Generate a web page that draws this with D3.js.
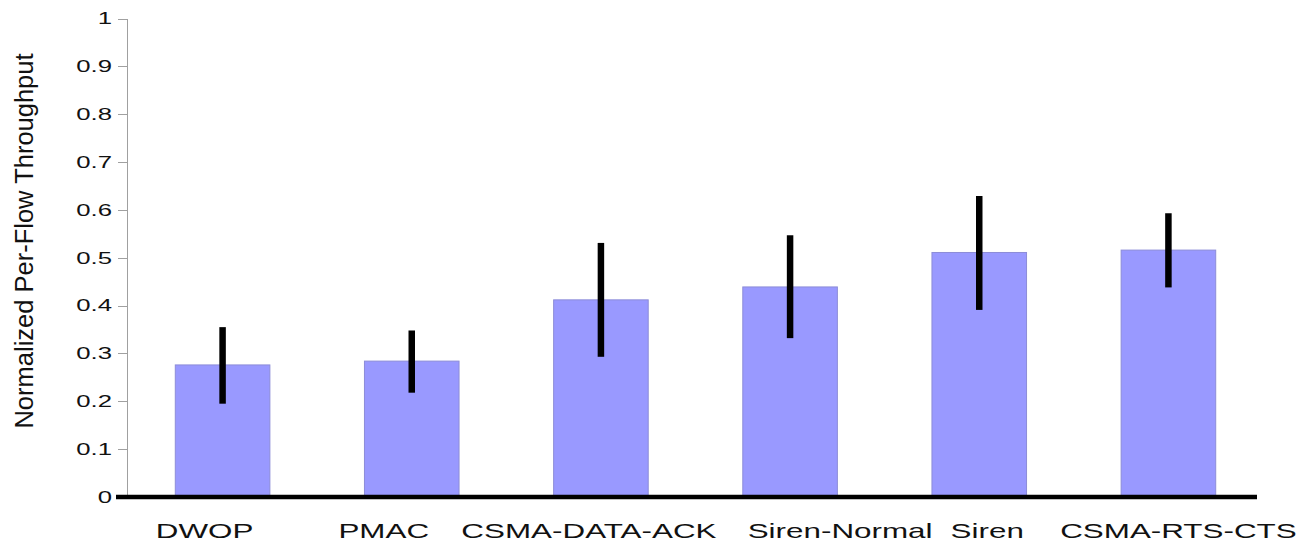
<!DOCTYPE html>
<html>
<head>
<meta charset="utf-8">
<script src="https://cdn.jsdelivr.net/npm/d3@7"></script>
<style>
body { margin: 0; background: #fff; }
svg { font-family: "Liberation Sans", Arial, sans-serif; }
.yaxis path, .yaxis line { stroke: #a0a0a0; stroke-width: 1px; shape-rendering: crispEdges; }
.yaxis text { fill: #111; font-size: 16.6px; }
.xlab text { fill: #111; font-size: 20px; }
</style>
</head>
<body>
<svg width="1305" height="542"></svg>
<script>
// values
var protocols = ["DWOP", "PMAC", "CSMA-DATA-ACK", "Siren-Normal", "Siren", "CSMA-RTS-CTS"];
var throughput = [0.276, 0.284, 0.412, 0.439, 0.511, 0.516];
var errLow  = [0.195, 0.218, 0.293, 0.332, 0.391, 0.438];
var errHigh = [0.355, 0.348, 0.531, 0.547, 0.629, 0.593];
var yTicks = [0, 0.1, 0.2, 0.3, 0.4, 0.5, 0.6, 0.7, 0.8, 0.9, 1];

// label nudges, the original keeps names from running into each other
var labelDx = [-18, -28, -12, 50, 8, 10];

var svg = d3.select("svg");

var x = d3.scaleBand()
    .domain(protocols)
    .range([128, 1263])
    .paddingInner(0.5)
    .paddingOuter(0.25);

var y = d3.scaleLinear()
    .domain([0, 1])
    .range([497, 18.5]);

// y axis (thin grey)
var yAxis = svg.append("g")
    .attr("class", "yaxis")
    .attr("transform", "translate(127,0)")
    .call(d3.axisLeft(y).tickValues(yTicks).tickSize(9).tickSizeOuter(0)
          .tickFormat(d => d === 0 ? "0" : d === 1 ? "1" : d3.format(".1f")(d)));
yAxis.selectAll("text")
    .attr("x", -15 / 1.55)
    .attr("transform", "scale(1.55,1)");

// bars
svg.append("g").selectAll("rect")
    .data(protocols)
  .enter().append("rect")
    .attr("x", d => x(d))
    .attr("width", x.bandwidth())
    .attr("y", (d, i) => y(throughput[i]))
    .attr("height", (d, i) => y(0) - y(throughput[i]))
    .attr("fill", "#9999ff")
    .attr("stroke", "#8c8cd8")
    .attr("stroke-width", 1);

// error bars
svg.append("g").selectAll("line")
    .data(protocols)
  .enter().append("line")
    .attr("x1", d => x(d) + x.bandwidth() / 2)
    .attr("x2", d => x(d) + x.bandwidth() / 2)
    .attr("y1", (d, i) => y(errLow[i]))
    .attr("y2", (d, i) => y(errHigh[i]))
    .attr("stroke", "#000")
    .attr("stroke-width", 6.5);

// thick baseline
svg.append("line")
    .attr("x1", 116).attr("x2", 1257)
    .attr("y1", y(0)).attr("y2", y(0))
    .attr("stroke", "#000")
    .attr("stroke-width", 4.5);

// category labels
svg.append("g")
    .attr("class", "xlab")
  .selectAll("text")
    .data(protocols)
  .enter().append("text")
    .attr("transform", (d, i) => "translate(" + (x(d) + x.bandwidth() / 2 + labelDx[i]) + "," + (y(0) + 40.5) + ") scale(1.57,1)")
    .attr("text-anchor", "middle")
    .text(d => d);

// y title
svg.append("text")
    .attr("transform", "translate(33,241) rotate(-90)")
    .attr("text-anchor", "middle")
    .attr("font-size", "25.5px")
    .attr("fill", "#111")
    .text("Normalized Per-Flow Throughput");
</script>
</body>
</html>
